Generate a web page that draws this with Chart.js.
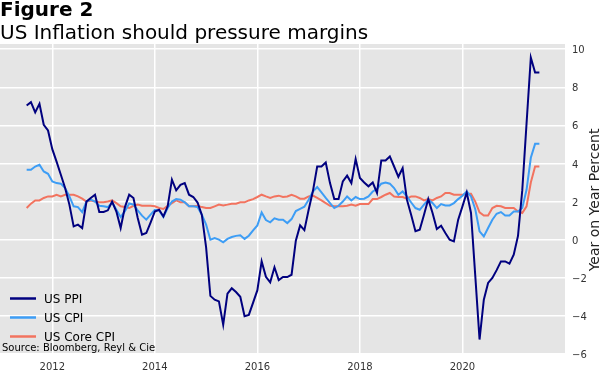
<!DOCTYPE html>
<html>
<head>
<meta charset="utf-8">
<script src="https://cdn.jsdelivr.net/npm/chart.js@4.4.1/dist/chart.umd.min.js"></script>
<style>
  html, body { margin: 0; padding: 0; background: #fff; }
  #wrap { position: relative; width: 604px; height: 371px; }
</style>
</head>
<body>
<div id="wrap"><canvas id="chart"></canvas></div>
<script>
// monthly observations, June 2011 -> June 2021 (month end)
const startYear = 2011;
const startMonth = 6;
const monthCount = 121;

const xTicks = [2012, 2014, 2016, 2018, 2020];
const yTicks = [-6, -4, -2, 0, 2, 4, 6, 8, 10];

const seriesNames = ["US PPI", "US CPI", "US Core CPI"];
const seriesColors = ["#00007f", "#3d9df5", "#f2735f"];

const usPpi = [
  7.04, 7.22, 6.68, 7.13, 6.03, 5.73, 4.75, 4.10, 3.41, 2.71, 1.84, 0.70,
  0.79, 0.61, 2.00, 2.19, 2.36, 1.45, 1.45, 1.54, 2.00, 1.48, 0.61, 1.71,
  2.36, 2.19, 1.14, 0.26, 0.35, 0.90, 1.48, 1.57, 1.22, 1.75, 3.15, 2.59,
  2.88, 2.97, 2.36, 2.24, 1.95, 1.30, -0.40, -2.95, -3.15, -3.24, -4.46, -2.83,
  -2.55, -2.75, -3.00, -4.02, -3.95, -3.30, -2.65, -1.14, -1.95, -2.24, -1.45, -2.12,
  -1.96, -1.96, -1.84, -0.05, 0.75, 0.50, 1.57, 2.55, 3.84, 3.84, 4.05, 2.97,
  2.13, 2.13, 3.06, 3.36, 2.97, 4.23, 3.24, 3.00, 2.80, 3.00, 2.45, 4.16,
  4.16, 4.37, 3.84, 3.30, 3.76, 2.10, 1.30, 0.44, 0.52, 1.31, 2.13, 1.40,
  0.56, 0.73, 0.35, 0.00, -0.09, 1.05, 1.75, 2.48, 1.40, -1.90, -5.24, -3.15,
  -2.27, -2.01, -1.60, -1.14, -1.14, -1.26, -0.79, 0.20, 2.60, 6.10, 9.56, 8.77,
  8.77
];

const usCpi = [
  3.67, 3.67, 3.84, 3.93, 3.58, 3.46, 3.06, 2.97, 2.94, 2.71, 2.27, 1.75,
  1.71, 1.45, 2.00, 2.10, 2.00, 1.78, 1.75, 1.71, 1.95, 1.57, 1.19, 1.50,
  1.90, 1.84, 1.54, 1.26, 1.05, 1.31, 1.57, 1.54, 1.19, 1.66, 2.00, 2.13,
  2.10, 1.96, 1.75, 1.75, 1.71, 1.31, 0.79, 0.00, 0.09, 0.00, -0.14, 0.04,
  0.14, 0.20, 0.23, 0.04, 0.21, 0.49, 0.75, 1.43, 1.03, 0.91, 1.12, 1.05,
  1.05, 0.87, 1.08, 1.50, 1.62, 1.73, 2.10, 2.53, 2.76, 2.48, 2.19, 1.92,
  1.66, 1.78, 2.00, 2.27, 2.06, 2.24, 2.13, 2.15, 2.27, 2.53, 2.66, 2.94,
  3.00, 2.94, 2.71, 2.36, 2.53, 2.27, 1.95, 1.66, 1.57, 1.84, 2.10, 1.92,
  1.66, 1.87, 1.80, 1.80, 1.92, 2.13, 2.31, 2.53, 2.27, 1.60, 0.44, 0.17,
  0.61, 1.05, 1.36, 1.45, 1.27, 1.27, 1.48, 1.48, 1.66, 2.62, 4.30, 5.03,
  5.03
];

const usCoreCpi = [
  1.66, 1.89, 2.06, 2.06, 2.19, 2.27, 2.27, 2.36, 2.27, 2.36, 2.36, 2.36,
  2.27, 2.15, 2.00, 2.06, 2.00, 1.97, 1.96, 2.00, 2.06, 1.92, 1.75, 1.71,
  1.66, 1.78, 1.84, 1.78, 1.78, 1.78, 1.75, 1.66, 1.61, 1.78, 1.92, 2.06,
  1.96, 1.96, 1.75, 1.75, 1.78, 1.71, 1.66, 1.66, 1.75, 1.84, 1.80, 1.84,
  1.89, 1.89, 1.96, 1.96, 2.06, 2.13, 2.24, 2.36, 2.27, 2.19, 2.27, 2.31,
  2.24, 2.27, 2.36, 2.27, 2.15, 2.15, 2.27, 2.31, 2.19, 2.06, 1.92, 1.78,
  1.75, 1.75, 1.75, 1.78, 1.84, 1.78, 1.87, 1.87, 1.87, 2.13, 2.13, 2.24,
  2.36, 2.45, 2.27, 2.24, 2.24, 2.15, 2.27, 2.27, 2.19, 2.06, 2.13, 2.06,
  2.19, 2.27, 2.45, 2.45, 2.36, 2.36, 2.36, 2.41, 2.41, 2.00, 1.43, 1.27,
  1.27, 1.66, 1.78, 1.75, 1.66, 1.66, 1.66, 1.48, 1.40, 1.75, 3.00, 3.84,
  3.84
];

// month-end positions as decimal years
const months = [];
for (let i = 0; i < monthCount; i++) {
  months.push(startYear + (startMonth + i) / 12);
}

const FONT = "'DejaVu Sans', sans-serif";
const seriesValues = [usPpi, usCpi, usCoreCpi];

// =========================
// grey panel behind the plot
// =========================
const panelBg = {
  id: "panelBg",
  beforeDraw(chart) {
    const { ctx, chartArea: a } = chart;
    ctx.save();
    ctx.fillStyle = "#e5e5e5";
    ctx.fillRect(a.left, a.top, a.right - a.left, a.bottom - a.top);
    ctx.restore();
  }
};

// =========================
// titles, legend, axis label, source
// =========================
const decorations = {
  id: "decorations",
  afterDraw(chart) {
    const { ctx, chartArea: a } = chart;
    ctx.save();
    ctx.fillStyle = "#000";
    ctx.textAlign = "left";
    ctx.textBaseline = "alphabetic";
    ctx.font = "bold 20px " + FONT;
    ctx.fillText("Figure 2", 0, 16);
    ctx.font = "20px " + FONT;
    ctx.fillText("US Inflation should pressure margins", 0, 39);

    // right axis label, reads bottom to top
    ctx.save();
    ctx.translate(595, (a.top + a.bottom) / 2 + 1);
    ctx.rotate(-Math.PI / 2);
    ctx.textAlign = "center";
    ctx.textBaseline = "middle";
    ctx.font = "14px " + FONT;
    ctx.fillStyle = "#222";
    ctx.fillText("Year on Year Percent", 0, 0);
    ctx.restore();

    // legend inside the panel
    ctx.font = "12px " + FONT;
    ctx.textBaseline = "middle";
    chart.data.datasets.forEach((ds, i) => {
      const y = 298.5 + i * 19;
      ctx.strokeStyle = ds.borderColor;
      ctx.lineWidth = 2.5;
      ctx.beginPath();
      ctx.moveTo(10, y);
      ctx.lineTo(36, y);
      ctx.stroke();
      ctx.fillStyle = "#000";
      ctx.fillText(ds.label, 44, y + 1);
    });

    ctx.font = "10px " + FONT;
    ctx.textBaseline = "alphabetic";
    ctx.fillText("Source: Bloomberg, Reyl & Cie", 2, 351);
    ctx.restore();
  }
};

new Chart(document.getElementById("chart"), {
  type: "line",
  data: {
    datasets: seriesNames.map((name, i) => ({
      label: name,
      data: months.map((m, j) => ({ x: m, y: seriesValues[i][j] })),
      borderColor: seriesColors[i],
      backgroundColor: seriesColors[i],
      borderWidth: 2,
      pointRadius: 0,
      tension: 0,
      fill: false
    }))
  },
  options: {
    responsive: true,
    maintainAspectRatio: false,
    animation: false,
    layout: { padding: { top: 44, left: 0, right: 0, bottom: 0 } },
    plugins: {
      legend: { display: false },
      title: { display: false },
      tooltip: { enabled: false }
    },
    scales: {
      x: {
        type: "linear",
        min: 2010.98,
        max: 2022.0,
        afterBuildTicks: s => { s.ticks = xTicks.map(v => ({ value: v })); },
        afterFit: s => { s.height = 17; },
        grid: { color: "#ffffff", lineWidth: 1.5, drawTicks: false },
        border: { display: false },
        ticks: {
          padding: 7,
          color: "#333",
          font: { family: FONT, size: 10 },
          callback: v => String(v),
          maxRotation: 0
        }
      },
      y: {
        position: "right",
        min: -6.0,
        max: 10.27,
        afterBuildTicks: s => { s.ticks = yTicks.map(v => ({ value: v })); },
        afterFit: s => { s.width = 39; },
        grid: { color: "#ffffff", lineWidth: 1.5, drawTicks: false },
        border: { display: false },
        ticks: {
          padding: 7,
          labelOffset: 1.5,
          color: "#333",
          font: { family: FONT, size: 10 },
          callback: v => (v < 0 ? "\u2212" + Math.abs(v) : String(v))
        }
      }
    }
  },
  plugins: [panelBg, decorations]
});
</script>
</body>
</html>
